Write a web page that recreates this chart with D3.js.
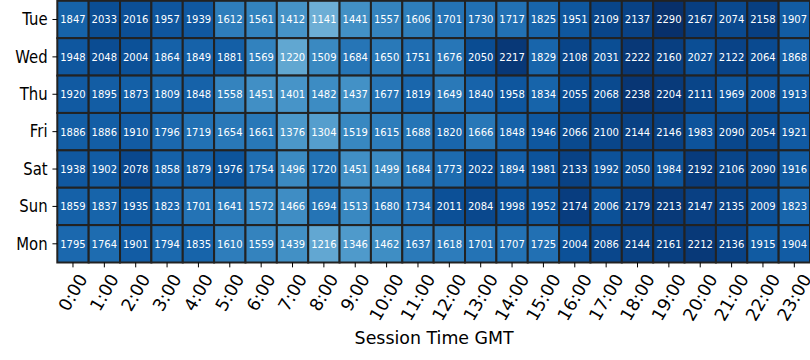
<!DOCTYPE html>
<html><head><meta charset="utf-8">
<script src="https://cdn.jsdelivr.net/npm/d3@7"></script>
<style>body{margin:0;background:#fff}svg{display:block}text{font-family:"DejaVu Sans",sans-serif}</style>
</head><body><svg id="c" width="810" height="360"></svg>
<script>
const days = ["Tue","Wed","Thu","Fri","Sat","Sun","Mon"];
const hours = ["0:00","1:00","2:00","3:00","4:00","5:00","6:00","7:00","8:00","9:00","10:00","11:00","12:00","13:00","14:00","15:00","16:00","17:00","18:00","19:00","20:00","21:00","22:00","23:00"];
const tue = [1847,2033,2016,1957,1939,1612,1561,1412,1141,1441,1557,1606,1701,1730,1717,1825,1951,2109,2137,2290,2167,2074,2158,1907];
const wed = [1948,2048,2004,1864,1849,1881,1569,1220,1509,1684,1650,1751,1676,2050,2217,1829,2108,2031,2222,2160,2027,2122,2064,1868];
const thu = [1920,1895,1873,1809,1848,1558,1451,1401,1482,1437,1677,1819,1649,1840,1958,1834,2055,2068,2238,2204,2111,1969,2008,1913];
const fri = [1886,1886,1910,1796,1719,1654,1661,1376,1304,1519,1615,1688,1820,1666,1848,1946,2066,2100,2144,2146,1983,2090,2054,1921];
const sat = [1938,1902,2078,1858,1879,1976,1754,1496,1720,1451,1499,1684,1773,2022,1894,1981,2133,1992,2050,1984,2192,2106,2090,1916];
const sun = [1859,1837,1935,1823,1701,1641,1572,1466,1694,1513,1680,1734,2011,2084,1998,1952,2174,2006,2179,2213,2147,2135,2009,1823];
const mon = [1795,1764,1901,1794,1835,1610,1559,1439,1216,1346,1462,1637,1618,1701,1707,1725,2004,2086,2144,2161,2212,2136,1915,1904];
const rows = [tue,wed,thu,fri,sat,sun,mon];

const svg = d3.select("#c");
const L = 57.3, R = 810, T = 0.8, B = 262.5;
const x = d3.scaleBand().domain(hours).range([L, R]);
const y = d3.scaleBand().domain(days).range([T, B]);
const vmax = d3.max(rows.flat());
const color = d3.scaleSequential(d3.interpolateBlues).domain([0, vmax]);

const cells = [];
rows.forEach((r, i) => r.forEach((v, j) => cells.push({day: days[i], hour: hours[j], v})));

const g = svg.append("g");
g.selectAll("rect").data(cells).join("rect")
  .attr("x", d => x(d.hour)).attr("y", d => y(d.day))
  .attr("width", x.bandwidth()).attr("height", y.bandwidth())
  .attr("fill", d => color(d.v)).attr("stroke", "#222").attr("stroke-width", 2);
g.selectAll("text").data(cells).join("text")
  .attr("x", d => x(d.hour) + x.bandwidth()/2).attr("y", d => y(d.day) + y.bandwidth()/2 + 0.5)
  .attr("text-anchor", "middle").attr("dominant-baseline", "central")
  .attr("font-size", 10).attr("fill", "#fff").text(d => d.v);

// y axis
const tl = 4.86, pad = 4.86;
const ya = svg.append("g");
days.forEach(d => {
  const cy = y(d) + y.bandwidth()/2;
  ya.append("line").attr("x1", L - tl).attr("x2", L).attr("y1", cy).attr("y2", cy).attr("stroke", "#000").attr("stroke-width", 1);
  ya.append("text").attr("transform", `translate(${L - tl - pad},${cy}) scale(0.88,1)`).attr("text-anchor", "end")
    .attr("dominant-baseline", "central").attr("font-size", 16.9).attr("fill", "#000").text(d);
});
// x axis
const xfs = 17.5;
const xa = svg.append("g");
hours.forEach(h => {
  const cx = x(h) + x.bandwidth()/2;
  xa.append("line").attr("x1", cx).attr("x2", cx).attr("y1", B).attr("y2", B + tl).attr("stroke", "#000").attr("stroke-width", 1);
  const t = xa.append("text").attr("font-size", xfs).attr("fill", "#000")
    .attr("text-anchor", "middle").attr("dominant-baseline", "central").text(h);
  const len = t.node().getComputedTextLength();
  const hgt = xfs * 0.75;
  const s = Math.sin(Math.PI/3), c = Math.cos(Math.PI/3);
  const halfH = (len * s + hgt * c) / 2;
  const cy = B + tl + pad + halfH;
  t.attr("transform", `translate(${cx},${cy}) rotate(-60)`);
});
svg.append("text").attr("x", (L + R)/2 + 0.5).attr("y", 343.5).attr("text-anchor", "middle")
  .attr("font-size", 17.4).attr("fill", "#000").text("Session Time GMT");
</script></body></html>
